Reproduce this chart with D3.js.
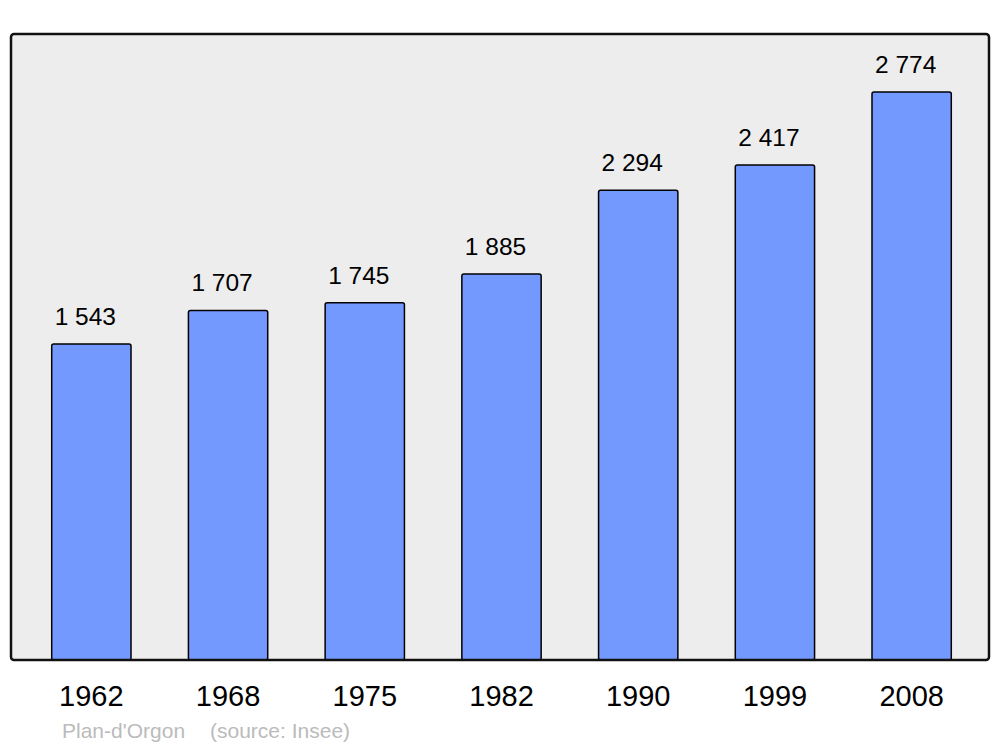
<!DOCTYPE html>
<html><head><meta charset="utf-8">
<script src="https://cdn.jsdelivr.net/npm/d3@7"></script>
<style>body{margin:0;background:#fff}svg{display:block}text{font-family:"Liberation Sans",Arial,sans-serif}</style>
</head><body>
<svg id="c" width="1000" height="747"></svg>
<script>
const years = ["1962","1968","1975","1982","1990","1999","2008"];
const population = [1543,1707,1745,1885,2294,2417,2774];
const valueLabels = ["1 543","1 707","1 745","1 885","2 294","2 417","2 774"];
const footer = ["Plan-d'Orgon", "(source: Insee)"];

const svg = d3.select("#c");
const frame = {x0: 11, x1: 989, y0: 34, y1: 660};
const x = d3.scaleBand().domain(years).range([23, 980]).paddingInner(0.42).paddingOuter(0.21);
const y = d3.scaleLinear().domain([0, 3057]).range([frame.y1, frame.y0]);

svg.append("rect").attr("x", frame.x0).attr("y", frame.y0)
  .attr("width", frame.x1 - frame.x0).attr("height", frame.y1 - frame.y0)
  .attr("rx", 3).attr("fill", "#ededed");

svg.selectAll("rect.bar").data(years).join("rect").attr("class","bar")
  .attr("x", d => x(d)).attr("width", x.bandwidth())
  .attr("y", (d,i) => y(population[i])).attr("height", (d,i) => y(0) - y(population[i]))
  .attr("rx", 2).attr("fill", "#7399ff").attr("stroke", "#000").attr("stroke-width", 1.5);

svg.append("rect").attr("x", frame.x0).attr("y", frame.y0)
  .attr("width", frame.x1 - frame.x0).attr("height", frame.y1 - frame.y0)
  .attr("rx", 3).attr("fill", "none").attr("stroke", "#111").attr("stroke-width", 2.5);

svg.selectAll("text.val").data(years).join("text").attr("class","val")
  .attr("x", d => x(d) + x.bandwidth()/2 - 6)
  .attr("y", (d,i) => y(population[i]) - 19)
  .attr("text-anchor","middle").attr("font-size", 24.5).attr("fill","#000")
  .text((d,i) => valueLabels[i]);

const xAxis = svg.append("g").attr("transform", `translate(0,${frame.y1})`)
  .call(d3.axisBottom(x).tickSize(0).tickPadding(0));
xAxis.select(".domain").remove();
xAxis.selectAll("text").attr("dy", null).attr("y", 45.5)
  .attr("font-size", 29).attr("fill","#000")
  .attr("font-family", '"Liberation Sans",Arial,sans-serif');

svg.append("text").attr("x", 62).attr("y", 738).attr("font-size", 21).attr("fill", "#bbb").text(footer[0]);
svg.append("text").attr("x", 210).attr("y", 738).attr("font-size", 21).attr("fill", "#bbb").text(footer[1]);
</script>
</body></html>
